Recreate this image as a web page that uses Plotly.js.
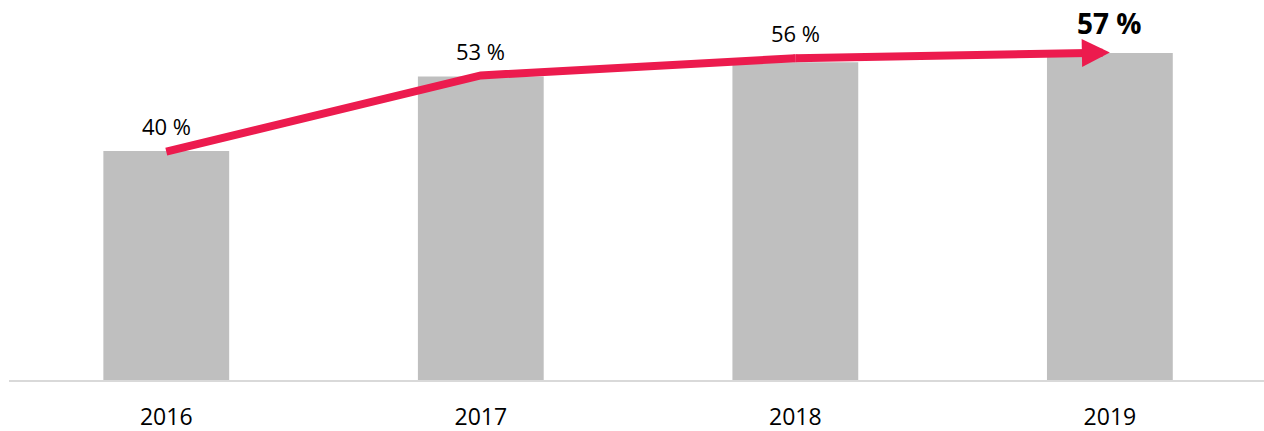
<!DOCTYPE html>
<html>
<head>
<meta charset="utf-8">
<script src="https://cdn.plot.ly/plotly-3.0.1.min.js"></script>
<style>html,body{margin:0;padding:0;background:#fff;}#chart{width:1264px;height:431px;}</style>
</head>
<body>
<div id="chart"></div>
<script>
// Data
var years = ['2016', '2017', '2018', '2019'];
var barValues = [40.0, 53.0, 55.5, 57.1];
var lineValues = [39.9, 53.2, 56.2, 57.2];
var labels = ['40 %', '53 %', '56 %', '57 %'];

var RED = '#EC1B4E';
var GREY = '#BFBFBF';

var bars = {
  type: 'bar',
  x: years,
  y: barValues,
  marker: {color: GREY, line: {width: 0}},
  hoverinfo: 'skip'
};

// line through the first three points; the last segment is drawn as an arrow annotation
var line = {
  type: 'scatter',
  mode: 'lines+markers',
  x: years.slice(0, 3),
  y: lineValues.slice(0, 3),
  line: {color: RED, width: 8},
  marker: {color: RED, size: [0, 0, 8], line: {width: 0}},
  hoverinfo: 'skip'
};

var n = years.length;
var annotations = [];
// arrow for the last segment (category index positions)
annotations.push({
  x: n - 1, y: lineValues[n - 1], xref: 'x', yref: 'y',
  ax: n - 2, ay: lineValues[n - 2], axref: 'x', ayref: 'y',
  text: ' ', font: {size: 1}, borderpad: 0,
  showarrow: true, arrowhead: 2, arrowwidth: 8, arrowsize: 0.7,
  arrowcolor: RED
});

var shifts = [26, 24, 25, 30];
for (var i = 0; i < n; i++) {
  var last = (i === n - 1);
  annotations.push({
    x: i, y: lineValues[i], xref: 'x', yref: 'y',
    text: last ? '<b>' + labels[i] + '</b>' : labels[i],
    showarrow: false, yshift: shifts[i],
    font: {family: 'Open Sans, sans-serif', size: last ? 28 : 22, color: '#000'}
  });
}

var layout = {
  width: 1264, height: 431,
  margin: {l: 9, r: 0, t: 0, b: 51},
  paper_bgcolor: '#fff', plot_bgcolor: '#fff',
  showlegend: false,
  bargap: 0.6,
  font: {family: 'Open Sans, sans-serif', color: '#000'},
  xaxis: {
    type: 'category',
    range: [-0.5, 3.49],
    showgrid: false, zeroline: false,
    showline: true, linecolor: '#D9D9D9', linewidth: 2,
    ticks: '', ticklabelstandoff: 15,
    tickfont: {family: 'Open Sans, sans-serif', size: 23, color: '#000'},
    fixedrange: true
  },
  yaxis: {
    range: [0, 66.38],
    visible: false, showgrid: false, zeroline: false,
    fixedrange: true
  },
  annotations: annotations
};

Plotly.newPlot('chart', [bars, line], layout, {displayModeBar: false, staticPlot: true});
</script>
</body>
</html>
